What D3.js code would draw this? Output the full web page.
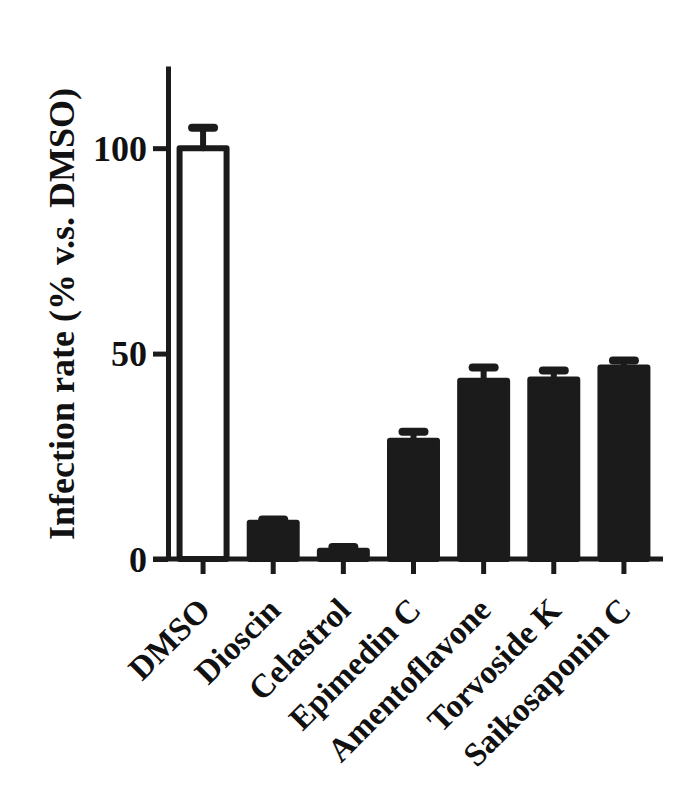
<!DOCTYPE html>
<html>
<head>
<meta charset="utf-8">
<script src="https://cdn.jsdelivr.net/npm/d3@7"></script>
<style>
  body { margin: 0; background: #fff; }
  text { font-family: "Liberation Serif", "Times New Roman", serif; font-weight: bold; fill: #111; }
</style>
</head>
<body>
<div id="chart"></div>
<script>
const categories = ["DMSO", "Dioscin", "Celastrol", "Epimedin C", "Amentoflavone", "Torvoside K", "Saikosaponin C"];
const values = [100, 8.8, 2.0, 28.8, 43.4, 43.7, 46.6];
const errors = [5.0, 0.8, 0.9, 2.2, 3.2, 2.2, 1.7];
const yTicks = [0, 50, 100];

const width = 691;
const height = 803;
const ink = "#1b1b1b";

const svg = d3.select("#chart").append("svg")
  .attr("width", width)
  .attr("height", height);

const x = d3.scaleBand()
  .domain(categories)
  .range([168, 659])
  .paddingInner(0.33)
  .paddingOuter(0.165);

const y = d3.scaleLinear().domain([0, 120]).range([559, 66]);

// bars
svg.selectAll("rect.bar")
  .data(categories)
  .enter()
  .append("rect")
  .attr("class", "bar")
  .attr("x", d => x(d))
  .attr("y", (d, i) => y(values[i]))
  .attr("width", x.bandwidth())
  .attr("height", (d, i) => y(0) - y(values[i]))
  .attr("fill", (d, i) => i === 0 ? "#fff" : ink)
  .attr("stroke", ink)
  .attr("stroke-width", 6)
  .attr("stroke-linejoin", "round");

// error bars (upper only)
const err = svg.append("g").attr("stroke", ink).attr("stroke-linecap", "round");
err.selectAll("line.stem")
  .data(categories)
  .enter()
  .append("line")
  .attr("x1", d => x(d) + x.bandwidth() / 2)
  .attr("x2", d => x(d) + x.bandwidth() / 2)
  .attr("y1", (d, i) => y(values[i]))
  .attr("y2", (d, i) => y(values[i] + errors[i]))
  .attr("stroke-width", 6);
err.selectAll("line.cap")
  .data(categories)
  .enter()
  .append("line")
  .attr("x1", d => x(d) + x.bandwidth() / 2 - 11)
  .attr("x2", d => x(d) + x.bandwidth() / 2 + 11)
  .attr("y1", (d, i) => y(values[i] + errors[i]))
  .attr("y2", (d, i) => y(values[i] + errors[i]))
  .attr("stroke-width", 8);

// y axis
const yAxis = svg.append("g")
  .attr("transform", "translate(168,0)")
  .call(d3.axisLeft(y).tickValues(yTicks).tickSize(15).tickPadding(6).tickSizeOuter(0));
yAxis.select(".domain").attr("stroke", ink).attr("stroke-width", 5);
yAxis.selectAll(".tick line").attr("stroke", ink).attr("stroke-width", 5);
yAxis.selectAll(".tick text")
  .style("font-size", "36px")
  .attr("dy", "0.34em");

// x axis
const xAxis = svg.append("g")
  .attr("transform", "translate(0,559)")
  .call(d3.axisBottom(x).tickSize(15).tickSizeOuter(0));
xAxis.select(".domain").attr("d", "M153,0H663").attr("stroke", ink).attr("stroke-width", 5);
xAxis.selectAll(".tick line").attr("stroke", ink).attr("stroke-width", 5);
xAxis.selectAll(".tick text")
  .style("font-size", "33px")
  .attr("text-anchor", "end")
  .attr("y", 0)
  .attr("dy", 0)
  .attr("transform", "translate(9,53) rotate(-45)");

// y title
svg.append("text")
  .attr("transform", "translate(74,314) rotate(-90)")
  .attr("text-anchor", "middle")
  .style("font-size", "36px")
  .text("Infection rate (% v.s. DMSO)");
</script>
</body>
</html>
